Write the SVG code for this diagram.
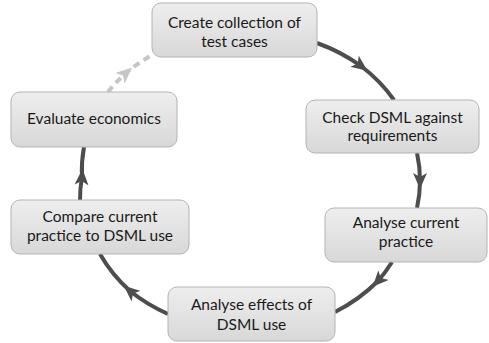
<svg xmlns="http://www.w3.org/2000/svg" width="489" height="343" viewBox="0 0 489 343">
<defs>
<linearGradient id="g" x1="0" y1="0" x2="0" y2="1">
<stop offset="0" stop-color="#eeeeee"/>
<stop offset="1" stop-color="#d8d8d8"/>
</linearGradient>
<marker id="ah" markerUnits="userSpaceOnUse" markerWidth="16" markerHeight="14" refX="8" refY="7" orient="auto" viewBox="0 0 16 14">
<path d="M0,0 L16,7 L0,14 L4,7 z" fill="#4d4d4d"/>
</marker>
<marker id="ahl" markerUnits="userSpaceOnUse" markerWidth="16" markerHeight="14" refX="8" refY="7" orient="auto" viewBox="0 0 16 14">
<path d="M0,0 L16,7 L0,14 L4,7 z" fill="#c6c6c6"/>
</marker>
</defs>
<style>
.box{fill:url(#g);stroke:#b3b3b3;stroke-width:1}
.t{font-family:Lato,"Open Sans","Liberation Sans",sans-serif;font-size:15.5px;fill:#1a1a1a;text-anchor:middle}
.c{fill:none;stroke:#4d4d4d;stroke-width:4;marker-mid:url(#ah)}
.d{fill:none;stroke:#c6c6c6;stroke-width:4;stroke-dasharray:7 5;marker-mid:url(#ahl)}
</style>
<rect width="489" height="343" fill="#ffffff"/>
<g id="connectors">
<path class="c" d="M317 43 A172 146 0 0 1 361 66 A172 146 0 0 1 394 100"/>
<path class="c" d="M417 153 A172 146 0 0 1 420 181 A172 146 0 0 1 417 208"/>
<path class="c" d="M392 262 A172 146 0 0 1 378 281 A172 146 0 0 1 335 312"/>
<path class="c" d="M168 314 A172 146 0 0 1 130 291 A172 146 0 0 1 100 254"/>
<path class="c" d="M80 200 A172 146 0 0 1 82 177 A172 146 0 0 1 84 147"/>
<path class="d" d="M108 92 A172 146 0 0 1 126 73 A172 146 0 0 1 152 55"/>
</g>
<g id="n1"><rect class="box" x="152" y="3" width="165" height="54" rx="9"/><text class="t" x="234.5" y="28">Create collection of</text><text class="t" x="234.5" y="47">test cases</text></g>
<g id="n2"><rect class="box" x="306" y="100" width="173" height="53" rx="9"/><text class="t" x="392.5" y="123">Check DSML against</text><text class="t" x="392.5" y="141">requirements</text></g>
<g id="n3"><rect class="box" x="325" y="208" width="162" height="54" rx="9"/><text class="t" x="406" y="228">Analyse current</text><text class="t" x="406" y="247">practice</text></g>
<g id="n4"><rect class="box" x="168" y="287" width="167" height="54" rx="9"/><text class="t" x="251.5" y="310">Analyse effects of</text><text class="t" x="251.5" y="330">DSML use</text></g>
<g id="n5"><rect class="box" x="11" y="200" width="178" height="54" rx="9"/><text class="t" x="100" y="222">Compare current</text><text class="t" x="100" y="241">practice to DSML use</text></g>
<g id="n6"><rect class="box" x="11" y="92" width="166" height="55" rx="9"/><text class="t" x="94" y="124">Evaluate economics</text></g>
</svg>
